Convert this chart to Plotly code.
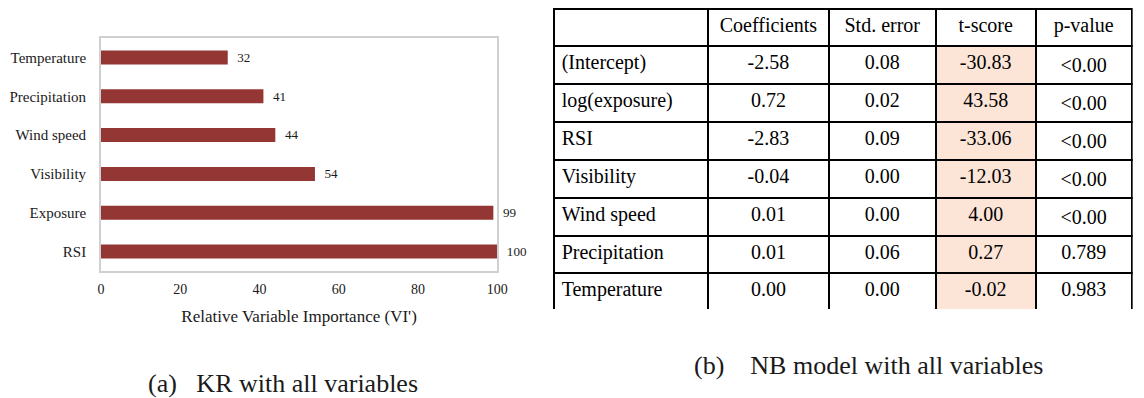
import plotly.graph_objects as go

# ---- Panel (a): relative variable importance ----
variables = ["Temperature", "Precipitation", "Wind speed", "Visibility", "Exposure", "RSI"]
importance = [32, 41, 44, 54, 99, 100]
x_ticks = [0, 20, 40, 60, 80, 100]

# ---- Panel (b): NB model coefficients ----
terms = ["(Intercept)", "log(exposure)", "RSI", "Visibility", "Wind speed", "Precipitation", "Temperature"]
coefficients = [-2.58, 0.72, -2.83, -0.04, 0.01, 0.01, 0.00]
std_errors = [0.08, 0.02, 0.09, 0.00, 0.00, 0.06, 0.00]
t_scores = [-30.83, 43.58, -33.06, -12.03, 4.00, 0.27, -0.02]
p_values = ["<0.00", "<0.00", "<0.00", "<0.00", "<0.00", "0.789", "0.983"]
headers = ["", "Coefficients", "Std. error", "t-score", "p-value"]

NB = "\u00a0"
captions = ["(a)" + NB * 3 + "KR with all variables", "(b)" + NB * 4 + "NB model with all variables"]

SERIF = "Liberation Serif"
W, H = 1144, 398

def px_x(x):
    return x / W

def px_y(y):
    return 1 - y / H

fig = go.Figure()

fig.add_trace(go.Bar(
    x=importance,
    y=variables,
    orientation="h",
    marker=dict(color="#943634", line=dict(width=0)),
    width=0.36,
    texttemplate=NB * 2 + "%{x}",
    textposition="outside",
    textfont=dict(family=SERIF, size=15, color="#1a1a1a"),
    cliponaxis=False,
    hoverinfo="skip",
    showlegend=False,
))

fig.add_trace(go.Table(
    domain=dict(x=[px_x(557), px_x(1142)], y=[px_y(309), px_y(9)]),
    columnwidth=[156, 122, 108, 101, 97],
    header=dict(
        values=headers,
        height=37,
        align=["left", "center", "center", "center", "center"],
        fill=dict(color="white"),
        line=dict(color="black", width=2),
        font=dict(family=SERIF, size=20, color="black"),
    ),
    cells=dict(
        values=[terms, coefficients, std_errors, t_scores, p_values],
        format=["", ".2f", ".2f", ".2f", ""],
        height=37.3,
        align=["left", "center", "center", "center", "center"],
        fill=dict(color=["white", "white", "white", "#fce4d6", "white"]),
        line=dict(color="black", width=2),
        font=dict(family=SERIF, size=20, color="black"),
    ),
))

fig.update_xaxes(
    domain=[px_x(99), px_x(500)],
    range=[0, 100],
    tickvals=x_ticks,
    showgrid=False,
    zeroline=False,
    showline=True,
    mirror=True,
    linecolor="#d0d0d0",
    linewidth=1.5,
    ticks="",
    ticklabelstandoff=4,
    tickfont=dict(family=SERIF, size=14, color="#1a1a1a"),
    title=dict(text="Relative Variable Importance (VI')",
               font=dict(family=SERIF, size=17, color="#1a1a1a"),
               standoff=15),
)
fig.update_yaxes(
    domain=[px_y(271), px_y(38)],
    autorange="reversed",
    showgrid=False,
    zeroline=False,
    showline=True,
    mirror=True,
    linecolor="#d0d0d0",
    linewidth=1.5,
    ticks="",
    ticklabelstandoff=10,
    tickfont=dict(family=SERIF, size=15, color="#1a1a1a"),
)

fig.add_annotation(text=captions[0], x=px_x(283), y=px_y(383), xref="paper", yref="paper",
                   xanchor="center", yanchor="middle",
                   showarrow=False, font=dict(family=SERIF, size=26, color="#1a1a1a"))
fig.add_annotation(text=captions[1], x=px_x(875), y=px_y(365), xref="paper", yref="paper",
                   xanchor="center", yanchor="middle",
                   showarrow=False, font=dict(family=SERIF, size=26, color="#1a1a1a"))

fig.update_layout(
    width=W,
    height=H,
    margin=dict(l=0, r=0, t=0, b=0),
    paper_bgcolor="white",
    plot_bgcolor="white",
    bargap=0.64,
)

fig.write_html("out.html")
